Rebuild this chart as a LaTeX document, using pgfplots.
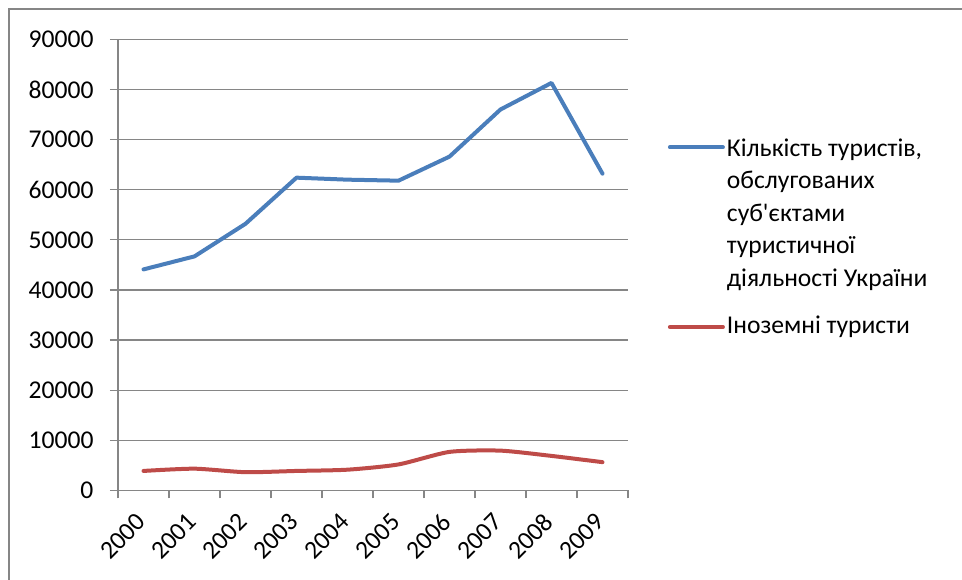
\documentclass[border=0pt]{standalone}
\usepackage{fontspec}
\setmainfont{Carlito}
\usepackage{pgfplots}
\pgfplotsset{compat=1.18}
\definecolor{serblue}{HTML}{4A7EBB}
\definecolor{serred}{HTML}{BE4B48}
\definecolor{linegray}{HTML}{868686}

\begin{document}
\begin{tikzpicture}
  \path[use as bounding box] (0pt,0pt) rectangle (962pt,580pt);
  \draw[linegray, line width=2pt] (9pt,0pt) -- (9pt,571pt) -- (962pt,571pt);
  \begin{axis}[
      at={(118pt,89.5pt)}, anchor=south west,
      scale only axis, width=510pt, height=451.2pt,
      xmin=-0.5, xmax=9.5, ymin=0, ymax=90000,
      xtick={0,...,9},
      xticklabels={2000,2001,2002,2003,2004,2005,2006,2007,2008,2009},
      minor xtick={-0.5,0.5,...,9.5},
      ytick={0,10000,...,90000},
      scaled y ticks=false,
      /pgf/number format/set thousands separator={},
      /pgf/number format/assume math mode=true,
      ymajorgrids,
      grid style={linegray, line width=1.3pt},
      axis x line*=bottom, axis y line*=left,
      axis line style={linegray, line width=1.3pt, -},
      tick align=outside,
      major tick length=8pt, minor tick length=8pt,
      tick style={linegray, line width=1.3pt},
      major x tick style={draw=none},
      tick label style={font=\fontsize{25.6}{30}\selectfont},
      yticklabel style={xshift=-13pt},
      xticklabel style={xshift=0pt, yshift=-17pt, rotate=45, anchor=east},
      legend cell align=left,
      legend style={at={(axis description cs:1.072,0.80)}, anchor=north west,
        draw=none, fill=none, row sep=154pt,
        font=\fontsize{25.6}{32.5}\selectfont},
    ]
    \addplot[serblue, line width=4pt, line join=round, line cap=round,
      legend image code/.code={\draw[serblue, line width=4pt] (0pt,-1.5pt) -- (53pt,-1.5pt);}]
    coordinates {
        (0,44100) (1,46700) (2,53200) (3,62400) (4,62000)
        (5,61800) (6,66600) (7,76000) (8,81300) (9,63200)
      };
    \addlegendentry{\begin{tabular}[t]{@{}l@{}}Кількість туристів,\\обслугованих\\суб\textquotesingle єктами\\туристичної\\діяльності України\end{tabular}}
    \addplot[serred, line width=4pt, line join=round, line cap=round, smooth, tension=0.4,
      legend image code/.code={\draw[serred, line width=4pt] (0pt,-1.5pt) -- (53pt,-1.5pt);}]
    coordinates {
        (0,3900) (1,4350) (2,3650) (3,3900) (4,4150)
        (5,5200) (6,7700) (7,7950) (8,6900) (9,5650)
      };
    \addlegendentry{Іноземні туристи}
  \end{axis}
\end{tikzpicture}
\end{document}
